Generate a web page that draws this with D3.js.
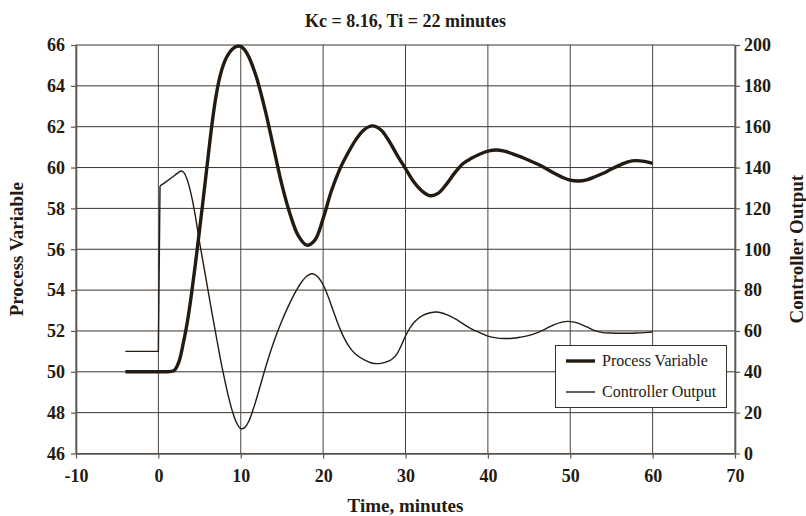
<!DOCTYPE html>
<html>
<head>
<meta charset="utf-8">
<script src="https://cdn.jsdelivr.net/npm/d3@7"></script>
<style>
  html, body { margin: 0; padding: 0; background: #fff; }
  svg { display: block; }
</style>
</head>
<body>
<svg id="chart" width="806" height="516"></svg>
<script>
// Closed-loop response: process variable and controller output over time
const titleText = "Kc = 8.16, Ti = 22 minutes";

const pvTime = [-4, 0, 1, 1.7, 2, 2.5, 3, 3.5, 4, 4.5, 5, 5.5, 6, 6.5, 7, 7.5, 8, 8.5, 9, 9.5, 10, 10.5, 11, 11.5, 12,
  13, 14, 15, 16, 17, 18, 19, 20, 21, 22, 23, 24, 25, 26, 27, 28, 29, 30, 31, 32, 33, 34, 35, 36, 37, 38, 39, 40,
  41, 42, 43, 44, 45, 46, 47, 48, 49, 50, 51, 52, 53, 54, 55, 56, 57, 58, 59, 60];
const pvValues = [50, 50, 50, 50.02, 50.1, 50.5, 51.35, 52.4, 53.75, 55.3, 56.95, 58.65, 60.4, 62.1, 63.5, 64.5, 65.15, 65.55, 65.8, 65.93, 65.93, 65.75, 65.4, 64.9, 64.3,
  62.75, 60.95, 59.15, 57.7, 56.65, 56.2, 56.45, 57.5, 58.85, 59.9, 60.7, 61.38, 61.86, 62.04, 61.85, 61.3, 60.6, 59.95, 59.3, 58.85, 58.62, 58.75, 59.2, 59.75, 60.2, 60.45, 60.65, 60.8,
  60.86, 60.8, 60.67, 60.52, 60.35, 60.17, 59.96, 59.73, 59.53, 59.38, 59.34, 59.4, 59.55, 59.72, 59.93, 60.12, 60.28, 60.34, 60.3, 60.2];

const coTime = [-4, 0, 0.2, 1, 2, 2.5, 2.8, 3.1, 3.5, 4, 4.5, 5, 5.5, 6, 6.5, 7, 7.5, 8, 8.5, 9, 9.5, 10, 10.5, 11, 11.5, 12, 12.5,
  13, 13.5, 14, 14.5, 15, 15.5, 16, 16.5, 17, 17.5, 18, 18.6, 19, 19.5, 20, 20.5, 21, 21.5, 22, 22.5, 23, 23.5, 24, 25, 26, 26.5, 27,
  28, 28.5, 29, 29.5, 30, 30.5, 31, 31.5, 32, 33, 33.8, 35, 36, 37, 38, 39, 40, 41, 42, 43, 44, 45, 46, 47, 48, 49, 49.7, 50.5, 51, 52, 53,
  54, 55, 56, 57, 58, 59, 60];
const coValues = [50, 50, 131, 133.2, 136.2, 137.8, 138.3, 137.5, 134, 126.5, 116, 103.5, 92, 80.5, 69, 58, 47, 37, 28, 20.5, 15, 12.2, 12.8, 16, 21.5, 28, 35,
  42, 48.5, 54.5, 60, 65, 69.7, 74, 78, 81.6, 84.6, 86.8, 88, 87.6, 85.8, 82.6, 78, 72.5, 66.8, 61.5, 57, 53.3, 50.5, 48.5, 45.8, 44.2, 44, 44.1,
  45.3, 46.6, 49, 53, 57.5, 61.2, 64, 66, 67.4, 68.9, 69.3, 68, 66, 63.5, 61, 59.2, 57.5, 56.6, 56.3, 56.4, 57, 57.8, 59.2, 61, 63, 64.3, 64.7, 64.3, 63.7, 62, 60.2,
  59.2, 59, 58.9, 58.9, 59, 59.2, 59.5];

const xTicks = [-10, 0, 10, 20, 30, 40, 50, 60, 70];
const pvTicks = [46, 48, 50, 52, 54, 56, 58, 60, 62, 64, 66];
const coTicks = [0, 20, 40, 60, 80, 100, 120, 140, 160, 180, 200];
const seriesNames = ["Process Variable", "Controller Output"];

const ink = "#231a12";
const gridColor = "#3a332c";
const axisColor = "#5e5750";
const serif = "'Liberation Serif', 'DejaVu Serif', serif";

const svg = d3.select("#chart");
const plotLeft = 76, plotRight = 735, plotTop = 45, plotBottom = 453.5;

const x = d3.scaleLinear().domain([-10, 70]).range([plotLeft, plotRight]);
const yPV = d3.scaleLinear().domain([46, 66]).range([plotBottom, plotTop]);
const yCO = d3.scaleLinear().domain([0, 200]).range([plotBottom, plotTop]);

// grid
const grid = svg.append("g");
grid.selectAll("line.h").data(pvTicks).join("line")
  .attr("x1", plotLeft).attr("x2", plotRight)
  .attr("y1", d => yPV(d)).attr("y2", d => yPV(d))
  .attr("stroke", gridColor).attr("stroke-width", 1);
grid.selectAll("line.v").data(xTicks).join("line")
  .attr("x1", d => x(d)).attr("x2", d => x(d))
  .attr("y1", plotTop).attr("y2", plotBottom)
  .attr("stroke", "#4a443e").attr("stroke-width", 1);

// axes
const plainNumber = d => String(d);
function styleAxis(g) {
  g.select(".domain").attr("stroke", axisColor).attr("stroke-width", 1.6);
  g.selectAll(".tick line").attr("stroke", axisColor).attr("stroke-width", 1.2);
  g.selectAll(".tick text")
    .attr("fill", ink)
    .style("font-family", serif)
    .style("font-weight", "bold")
    .style("font-size", "18px");
}

svg.append("g")
  .attr("transform", `translate(0,${plotBottom})`)
  .call(d3.axisBottom(x).tickValues(xTicks).tickFormat(plainNumber).tickSizeInner(5).tickSizeOuter(0).tickPadding(11))
  .call(styleAxis);

svg.append("g")
  .attr("transform", `translate(${plotLeft},0)`)
  .call(d3.axisLeft(yPV).tickValues(pvTicks).tickFormat(plainNumber).tickSizeInner(5).tickSizeOuter(0).tickPadding(6))
  .call(styleAxis);

svg.append("g")
  .attr("transform", `translate(${plotRight},0)`)
  .call(d3.axisRight(yCO).tickValues(coTicks).tickFormat(plainNumber).tickSizeInner(5).tickSizeOuter(0).tickPadding(4))
  .call(styleAxis);

// series: the initial steady/step part is straight, the response is a smooth curve
const pvData = pvTime.map((t, i) => [t, pvValues[i]]);
const coData = coTime.map((t, i) => [t, coValues[i]]);

const smooth = d3.curveCatmullRom.alpha(0.5);
function drawSeries(data, yScale, width, splitAt) {
  const i = data.findIndex(d => d[0] >= splitAt);
  const straight = d3.line().x(d => x(d[0])).y(d => yScale(d[1]));
  const curved = d3.line().x(d => x(d[0])).y(d => yScale(d[1])).curve(smooth);
  const g = svg.append("g")
    .attr("fill", "none").attr("stroke", ink).attr("stroke-width", width)
    .attr("stroke-linejoin", "round").attr("stroke-linecap", "butt");
  g.append("path").attr("d", straight(data.slice(0, i + 1)));
  g.append("path").attr("d", curved(data.slice(i)));
}

drawSeries(coData, yCO, 1.4, 0.2);
drawSeries(pvData, yPV, 3.4, 1.7);

// titles
svg.append("text")
  .attr("x", (plotLeft + plotRight) / 2).attr("y", 27)
  .attr("text-anchor", "middle")
  .attr("fill", ink)
  .style("font-family", serif).style("font-weight", "bold").style("font-size", "18px")
  .text(titleText);

svg.append("text")
  .attr("x", (plotLeft + plotRight) / 2).attr("y", 512)
  .attr("text-anchor", "middle")
  .attr("fill", ink)
  .style("font-family", serif).style("font-weight", "bold").style("font-size", "19px")
  .text("Time, minutes");

svg.append("text")
  .attr("transform", `translate(23,${(plotTop + plotBottom) / 2}) rotate(-90)`)
  .attr("text-anchor", "middle")
  .attr("fill", ink)
  .style("font-family", serif).style("font-weight", "bold").style("font-size", "19px")
  .text("Process Variable");

svg.append("text")
  .attr("transform", `translate(803,${(plotTop + plotBottom) / 2}) rotate(-90)`)
  .attr("text-anchor", "middle")
  .attr("fill", ink)
  .style("font-family", serif).style("font-weight", "bold").style("font-size", "19px")
  .text("Controller Output");

// legend
const legend = svg.append("g");
legend.append("rect")
  .attr("x", 555.5).attr("y", 345.5).attr("width", 171).attr("height", 62)
  .attr("fill", "#fff").attr("stroke", "#3a332c").attr("stroke-width", 1);
const rows = [{ name: seriesNames[0], w: 3.4, y: 361 }, { name: seriesNames[1], w: 1.4, y: 392 }];
rows.forEach(r => {
  legend.append("line")
    .attr("x1", 566).attr("x2", 595).attr("y1", r.y).attr("y2", r.y)
    .attr("stroke", ink).attr("stroke-width", r.w);
  legend.append("text")
    .attr("x", 602).attr("y", r.y + 5)
    .attr("fill", ink)
    .style("font-family", serif).style("font-size", "16px")
    .text(r.name);
});
</script>
</body>
</html>
